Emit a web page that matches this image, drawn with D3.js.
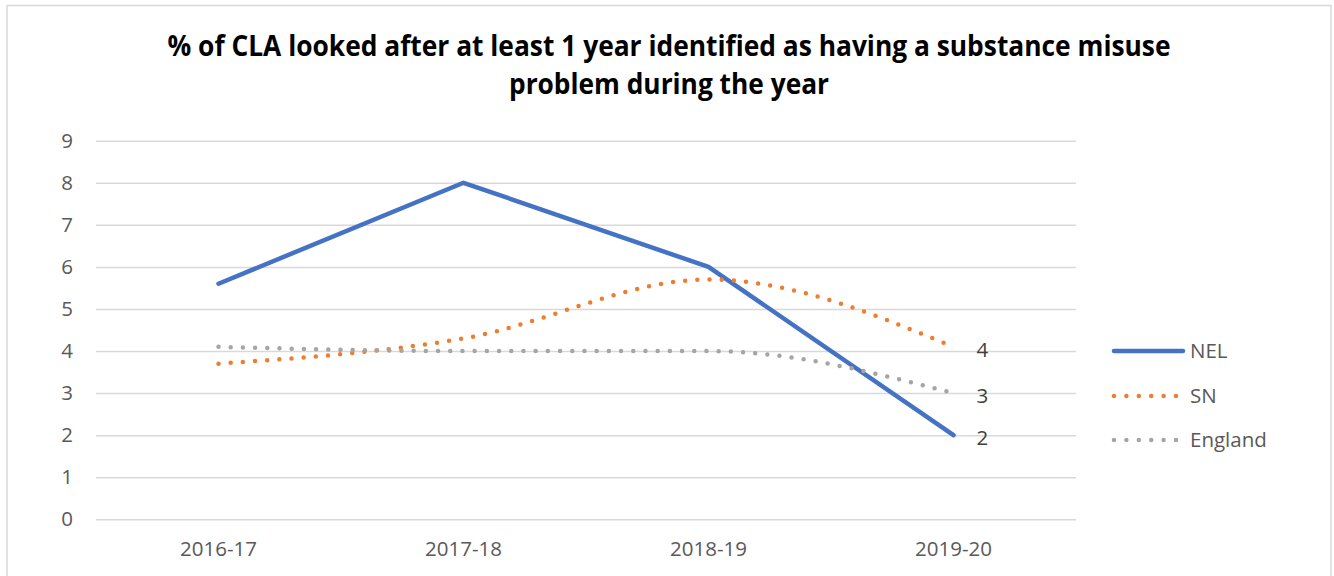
<!DOCTYPE html>
<html>
<head>
<meta charset="utf-8">
<script src="https://cdn.jsdelivr.net/npm/d3@7"></script>
<style>
  html, body { margin: 0; padding: 0; background: #fff; }
  svg { display: block; }
  text { font-family: "Open Sans", "Noto Sans", sans-serif; }
</style>
</head>
<body>
<svg id="chart" width="1334" height="576"></svg>
<script>
// Chart data
const years = ["2016-17", "2017-18", "2018-19", "2019-20"];
const nel = [5.6, 8.0, 6.0, 2.0];
const sn = [3.7, 4.3, 5.7, 4.1];
const england = [4.1, 4.0, 4.0, 3.0];
const yTicks = [0, 1, 2, 3, 4, 5, 6, 7, 8, 9];
const titleLines = [
  "% of CLA looked after at least 1 year identified as having a substance misuse",
  "problem during the year"
];

const series = [
  { name: "NEL", values: nel, color: "#4472C4", dotted: false, curve: d3.curveLinear },
  { name: "SN", values: sn, color: "#ED7D31", dotted: true, curve: d3.curveMonotoneX },
  { name: "England", values: england, color: "#A5A5A5", dotted: true, curve: d3.curveMonotoneX }
];

const svg = d3.select("#chart");
const W = 1334, H = 576;

// chart-area border
svg.append("rect")
  .attr("x", 7).attr("y", 5.5)
  .attr("width", 1324).attr("height", H + 10)
  .attr("fill", "#fff")
  .attr("stroke", "#d9d9d9").attr("stroke-width", 1.5);

// title
const titleWidths = [1003, 320];
const titleBase = [56, 94];
titleLines.forEach((t, i) => {
  svg.append("text")
    .attr("x", 669).attr("y", titleBase[i])
    .attr("text-anchor", "middle")
    .attr("font-size", 28.5)
    .attr("font-weight", 700)
    .attr("fill", "#000")
    .attr("textLength", titleWidths[i])
    .attr("lengthAdjust", "spacingAndGlyphs")
    .text(t);
});

// plot area
const plot = { left: 96, right: 1076, top: 140.7, bottom: 519.3 };

const x = d3.scaleBand().domain(years).range([plot.left, plot.right]);
const y = d3.scaleLinear().domain([0, 9]).range([plot.bottom, plot.top]);
const cx = d => x(d) + x.bandwidth() / 2;

// gridlines and value axis labels
const yAxis = d3.axisLeft(y).tickValues(yTicks)
  .tickSize(-(plot.right - plot.left)).tickPadding(23)
  .tickFormat(d3.format("d"));
const gy = svg.append("g").attr("transform", `translate(${plot.left},0)`).call(yAxis);
gy.select(".domain").remove();
gy.selectAll(".tick line").attr("stroke", "#d9d9d9").attr("stroke-width", 1.5);
gy.selectAll(".tick text")
  .attr("font-size", 20.5).attr("fill", "#595959")
  .attr("font-family", "'Open Sans', sans-serif");

// category axis labels
const xAxis = d3.axisBottom(x).tickSize(0).tickPadding(22);
const gx = svg.append("g").attr("transform", `translate(0,${plot.bottom})`).call(xAxis);
gx.select(".domain").remove();
gx.selectAll(".tick text")
  .attr("font-size", 20.5).attr("fill", "#595959")
  .attr("font-family", "'Open Sans', sans-serif");

// series lines
series.forEach(s => {
  const line = d3.line()
    .x((d, i) => cx(years[i]))
    .y(d => y(d))
    .curve(s.curve);
  const p = svg.append("path")
    .datum(s.values)
    .attr("d", line)
    .attr("fill", "none")
    .attr("stroke", s.color)
    .attr("stroke-width", 4.5)
    .attr("stroke-linecap", "round")
    .attr("stroke-linejoin", "round");
  if (s.dotted) p.attr("stroke-dasharray", "0 12.2");
});

// data labels on the final point
const fmt = d3.format(".0f");
series.forEach(s => {
  const last = s.values.length - 1;
  svg.append("text")
    .attr("x", cx(years[last]) + 23)
    .attr("y", y(s.values[last]) + 3)
    .attr("dy", "0.35em")
    .attr("font-size", 20.5)
    .attr("fill", "#404040")
    .text(fmt(s.values[last]));
});

// legend
const legendY = [351, 396, 440];
series.forEach((s, i) => {
  const g = svg.append("g");
  g.append("line")
    .attr("x1", 1114).attr("x2", s.dotted ? 1176 : 1183)
    .attr("y1", legendY[i]).attr("y2", legendY[i])
    .attr("stroke", s.color)
    .attr("stroke-width", 4.5)
    .attr("stroke-linecap", "round")
    .attr("stroke-dasharray", s.dotted ? "0 12.4" : null);
  g.append("text")
    .attr("x", 1190).attr("y", legendY[i])
    .attr("dy", "0.35em")
    .attr("font-size", 20.5)
    .attr("fill", "#595959")
    .text(s.name);
});
</script>
</body>
</html>
